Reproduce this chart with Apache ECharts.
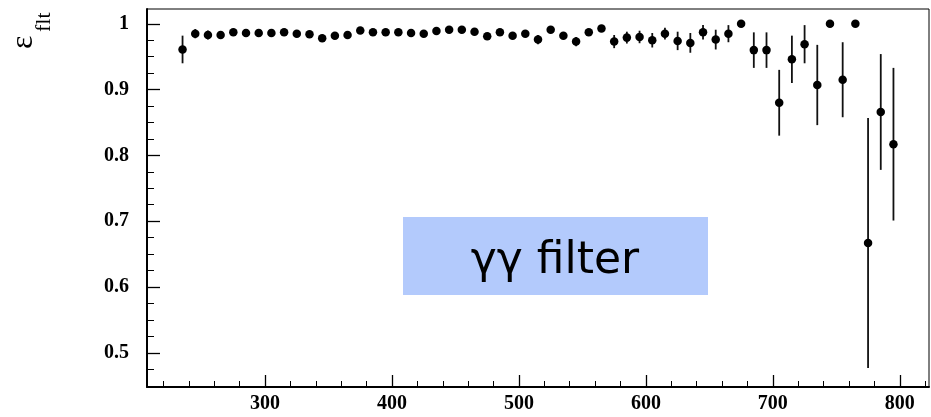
<!DOCTYPE html>
<html><head><meta charset="utf-8">
<script src="https://cdn.jsdelivr.net/npm/echarts@6/dist/echarts.min.js"></script>
<style>html,body{margin:0;padding:0;background:#fff}#c{width:931px;height:417px}</style>
</head><body><div id="c"></div>
<script>
const binCenters = [235,245,255,265,275,285,295,305,315,325,335,345,355,365,375,385,395,405,415,425,
  435,445,455,465,475,485,495,505,515,525,535,545,555,565,575,585,595,605,615,625,
  635,645,655,665,675,685,695,705,715,725,735,745,755,765,775,785,795];
const efficiency = [0.961,0.985,0.983,0.983,0.987,0.986,0.986,0.986,0.987,0.985,
  0.984,0.978,0.982,0.983,0.990,0.987,0.987,0.987,0.986,0.985,
  0.989,0.991,0.991,0.988,0.981,0.987,0.982,0.985,0.976,0.991,
  0.982,0.973,0.987,0.993,0.973,0.979,0.980,0.975,0.985,0.974,
  0.971,0.987,0.976,0.985,1.000,0.960,0.960,0.880,0.946,0.969,
  0.907,1.000,0.915,1.000,0.667,0.866,0.817];
const errors = [0.021,0.007,0.007,0.005,0.004,0.004,0.004,0.004,0.004,0.004,
  0.004,0.004,0.004,0.004,0.004,0.004,0.004,0.004,0.004,0.004,
  0.004,0.004,0.004,0.004,0.004,0.004,0.004,0.004,0.007,0.004,
  0.005,0.007,0.005,0.004,0.010,0.009,0.0095,0.011,0.009,0.014,
  0.015,0.011,0.015,0.013,0,0.027,0.027,0.050,0.036,0.029,
  0.061,0,0.057,0,0.19,0.088,0.116];
const xMajorTicks = [300,400,500,600,700,800];
const xMinorTicks = [220,240,260,280,300,320,340,360,380,400,420,440,460,480,500,520,540,560,580,600,620,640,660,680,700,720,740,760,780,800,820];
const yMajorTicks = [0.5,0.6,0.7,0.8,0.9,1];
const yMinorTicks = [0.475,0.5,0.525,0.55,0.575,0.6,0.625,0.65,0.675,0.7,0.725,0.75,0.775,0.8,0.825,0.85,0.875,0.9,0.925,0.95,0.975,1];
const xRange = [207, 823];
const yRange = [0.448, 1.0225];
const yTitleMain = 'ε';
const yTitleSub = 'flt';
const boxText = 'γγ filter';

const chart = echarts.init(document.getElementById('c'), null, {renderer:'canvas'});
const labelFont = {fontFamily:'Liberation Serif', fontWeight:'bold', fontSize:20, color:'#000'};
const nameAxis = (name, offset, gap, size) => ({
  type:'value', min:yRange[0], max:yRange[1], position:'left', offset:offset,
  axisLine:{show:false}, axisTick:{show:false}, axisLabel:{show:false}, splitLine:{show:false},
  name:name, nameLocation:'end', nameRotate:90, nameGap:gap,
  nameTextStyle:{fontFamily:'Liberation Serif', fontSize:size, color:'#000'}
});
const option = {
  animation:false,
  backgroundColor:'#fff',
  grid:{left:147, top:9, width:782, height:378, show:true, borderColor:'#000', borderWidth:1, backgroundColor:'transparent'},
  xAxis:[
    {type:'value', min:xRange[0], max:xRange[1], position:'bottom',
     axisLine:{show:true, onZero:false, lineStyle:{color:'#000', width:2}},
     axisTick:{show:true, inside:true, length:12, customValues:xMajorTicks, lineStyle:{color:'#000', width:1.3}},
     axisLabel:Object.assign({show:true, margin:7, customValues:xMajorTicks}, labelFont),
     splitLine:{show:false}},
    {type:'value', min:xRange[0], max:xRange[1], position:'bottom',
     axisLine:{show:false},
     axisTick:{show:true, inside:true, length:6, customValues:xMinorTicks, lineStyle:{color:'#000', width:1}},
     axisLabel:{show:false}, splitLine:{show:false}}
  ],
  yAxis:[
    {type:'value', min:yRange[0], max:yRange[1], position:'left',
     axisLine:{show:true, onZero:false, lineStyle:{color:'#000', width:2}},
     axisTick:{show:true, inside:true, length:13, customValues:yMajorTicks, lineStyle:{color:'#000', width:1.3}},
     axisLabel:Object.assign({show:true, margin:18, customValues:yMajorTicks,
       formatter:v => (Math.abs(v-1)<1e-9 ? '1' : v.toFixed(1))}, labelFont),
     splitLine:{show:false}},
    {type:'value', min:yRange[0], max:yRange[1], position:'left',
     axisLine:{show:false},
     axisTick:{show:true, inside:true, length:7, customValues:yMinorTicks, lineStyle:{color:'#000', width:1}},
     axisLabel:{show:false}, splitLine:{show:false}},
    nameAxis(yTitleMain, 123, -40, 32),
    nameAxis(yTitleSub, 103, -23, 22)
  ],
  series:[
    {type:'custom', xAxisIndex:0, yAxisIndex:0, z:2,
     data:binCenters.map((x,i)=>[x, efficiency[i]-errors[i], efficiency[i]+errors[i]]),
     encode:{x:0, y:[1,2]},
     renderItem:(params, api) => {
       const x = api.value(0), lo = api.value(1), hi = api.value(2);
       const p1 = api.coord([x, hi]), p2 = api.coord([x, lo]);
       return {type:'line', shape:{x1:p1[0], y1:p1[1], x2:p2[0], y2:p2[1]},
               style:{stroke:'#111', lineWidth:1.8}};
     }},
    {type:'scatter', xAxisIndex:0, yAxisIndex:0, z:3,
     data:binCenters.map((x,i)=>[x, efficiency[i]]),
     symbol:'circle', symbolSize:8.5, itemStyle:{color:'#000', opacity:1}}
  ],
  graphic:[
    {type:'rect', left:403, top:217, shape:{width:305, height:78}, style:{fill:'#b3cafc'}, z:1},
    {type:'text', x:555, y:262, style:{text:boxText, x:0, y:0, align:'center', verticalAlign:'middle',
       font:'44px "DejaVu Sans"', fill:'#000'}, z:2}
  ]
};
chart.setOption(option);
</script>
</body></html>
